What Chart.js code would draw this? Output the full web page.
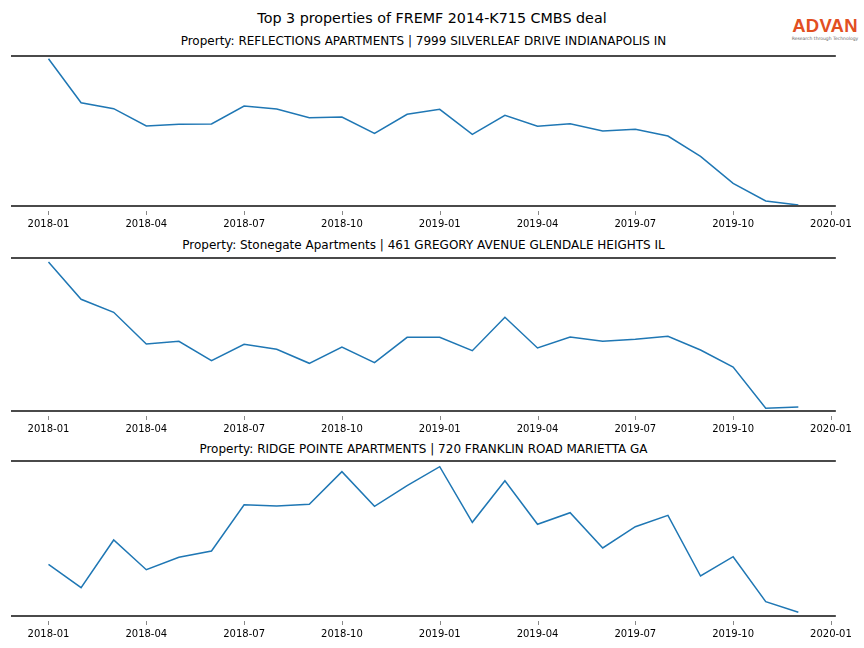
<!DOCTYPE html>
<html>
<head>
<meta charset="utf-8">
<script src="https://cdn.jsdelivr.net/npm/chart.js@4.4.1/dist/chart.umd.min.js"></script>
<style>
    body { margin: 0; background: #fff; }
    #page { position: relative; width: 864px; height: 648px; font-family: "DejaVu Sans", sans-serif; color: #000; }
    .title { position: absolute; left: 0; width: 864px; text-align: center; font-size: 14.3px; }
    .subtitle { position: absolute; left: 11px; width: 825px; text-align: center; font-size: 12px; }
    .plot { position: absolute; left: 0; width: 864px; }
    #logo { position: absolute; left: 790px; top: 16px; width: 70px; text-align: center; }
    #logo .brand { font-family: "Liberation Sans", Arial, sans-serif; font-weight: bold; font-size: 18.5px; color: #e24f22; letter-spacing: 0.2px; line-height: 20px; }
    #logo .tag { font-size: 4.5px; color: #666; line-height: 6px; }
</style>
</head>
<body>
<div id="page">
    <div class="title" style="top: 10px;">Top 3 properties of FREMF 2014-K715 CMBS deal</div>
    <div id="logo"><div class="brand">ADVAN</div><div class="tag">Research through Technology</div></div>
    <div class="subtitle" style="top: 34px;">Property: REFLECTIONS APARTMENTS | 7999 SILVERLEAF DRIVE INDIANAPOLIS IN</div>
    <div class="subtitle" style="top: 238px;">Property: Stonegate Apartments | 461 GREGORY AVENUE GLENDALE HEIGHTS IL</div>
    <div class="subtitle" style="top: 442px;">Property: RIDGE POINTE APARTMENTS | 720 FRANKLIN ROAD MARIETTA GA</div>
    <div class="plot" style="top: 54px;"><canvas id="chart1"></canvas></div>
    <div class="plot" style="top: 256px;"><canvas id="chart2"></canvas></div>
    <div class="plot" style="top: 459px;"><canvas id="chart3"></canvas></div>
</div>
<script>
// monthly observations, 2018-01 .. 2019-12
const months = [
    '2018-01', '2018-02', '2018-03', '2018-04', '2018-05', '2018-06',
    '2018-07', '2018-08', '2018-09', '2018-10', '2018-11', '2018-12',
    '2019-01', '2019-02', '2019-03', '2019-04', '2019-05', '2019-06',
    '2019-07', '2019-08', '2019-09', '2019-10', '2019-11', '2019-12'
];
const tickLabels = ['2018-01', '2018-04', '2018-07', '2018-10', '2019-01', '2019-04', '2019-07', '2019-10', '2020-01'];

const reflections = [147.3, 103.3, 97.3, 80, 81.7, 82, 100, 97, 88.3, 89, 72.7, 91.7,
                     96.7, 71.7, 90.7, 79.7, 82.3, 75, 76.7, 70, 49.7, 22.7, 5, 1];
const stonegate = [149, 111.7, 98.7, 67, 69.7, 50.3, 66.7, 61.7, 47.7, 64, 48.3, 73.7,
                   73.7, 60.3, 93.7, 63, 74, 69.7, 71.7, 74.7, 61, 44, 2.7, 4];
const ridgePointe = [51.7, 28.3, 76, 46.3, 58.7, 65, 111.3, 110, 111.7, 144.3, 109.7, 130.3,
                     149.3, 93.7, 135.3, 91.7, 103.3, 68, 89.3, 100.7, 40, 59.3, 14.3, 3.7];

// top / bottom spines, plus small tick marks a little below the bottom one
const spines = {
    id: 'spines',
    afterDraw(chart) {
        const { ctx, chartArea: a } = chart;
        ctx.save();
        ctx.strokeStyle = '#4a4a4a';
        ctx.lineWidth = 2;
        ctx.beginPath();
        ctx.moveTo(a.left, a.top);
        ctx.lineTo(a.right, a.top);
        ctx.moveTo(a.left, a.bottom);
        ctx.lineTo(a.right, a.bottom);
        ctx.stroke();

        ctx.strokeStyle = '#888';
        ctx.lineWidth = 1;
        ctx.beginPath();
        chart.scales.x.ticks.forEach(t => {
            const px = Math.round(chart.scales.x.getPixelForValue(t.value)) + 0.5;
            ctx.moveTo(px, a.bottom + 5);
            ctx.lineTo(px, a.bottom + 9);
        });
        ctx.stroke();
        ctx.restore();
    }
};

function makeChart(id, values, plotHeight) {
    const canvas = document.getElementById(id);
    const axisHeight = 30;
    canvas.parentNode.style.height = (plotHeight + 2 + axisHeight) + 'px';

    const monthIndex = {};
    months.forEach((m, i) => { monthIndex[m] = i; });

    return new Chart(canvas, {
        type: 'line',
        data: {
            datasets: [{
                data: months.map((m, i) => ({ x: monthIndex[m], y: values[i] })),
                borderColor: '#1f77b4',
                borderWidth: 1.5,
                pointRadius: 0,
                tension: 0,
                fill: false
            }]
        },
        options: {
            responsive: true,
            maintainAspectRatio: false,
            animation: false,
            layout: { padding: { top: 2, bottom: 0, left: 11, right: 28 } },
            plugins: { legend: { display: false }, tooltip: { enabled: false } },
            scales: {
                x: {
                    type: 'linear',
                    min: -1.15,
                    max: 24.15,
                    afterBuildTicks: (scale) => {
                        scale.ticks = tickLabels.map((t, i) => ({ value: i * 3 }));
                    },
                    afterFit: (scale) => { scale.height = axisHeight; },
                    border: { display: false },
                    grid: { display: false, drawOnChartArea: false, drawTicks: false },
                    ticks: {
                        autoSkip: false,
                        maxRotation: 0,
                        padding: 12,
                        color: '#000',
                        font: { family: 'DejaVu Sans', size: 10 },
                        callback: (v) => tickLabels[v / 3]
                    }
                },
                y: {
                    display: false,
                    min: 0,
                    max: plotHeight
                }
            }
        },
        plugins: [spines]
    });
}

makeChart('chart1', reflections, 150);
makeChart('chart2', stonegate, 153);
makeChart('chart3', ridgePointe, 155);
</script>
</body>
</html>
